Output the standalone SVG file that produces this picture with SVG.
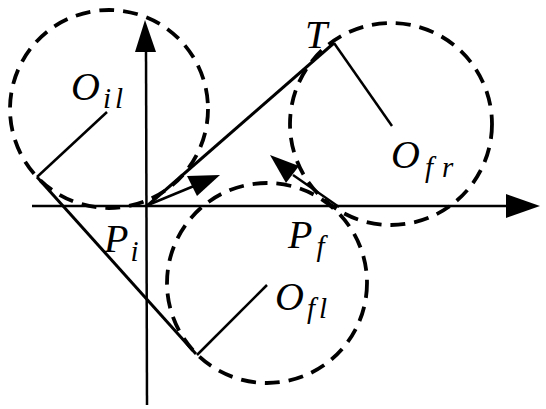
<svg xmlns="http://www.w3.org/2000/svg" width="546" height="409" viewBox="0 0 546 409">
<style>
.circ{fill:none;stroke:#000;stroke-width:3.8;stroke-dasharray:15 9}
.ln{stroke:#000;stroke-width:3;fill:none;stroke-linecap:butt}
.thin{stroke:#000;stroke-width:2.5;fill:none}
.ax{stroke:#000;stroke-width:2.5;fill:none}
.lbl{font-family:"Liberation Serif","Times New Roman",serif;font-style:italic;font-size:40px;fill:#000}
.sub{font-size:29px;letter-spacing:4px}
.wide{letter-spacing:9px}
</style>
<rect width="546" height="409" fill="#fff"/>
<g id="axes">
<line class="ax" x1="32" y1="206" x2="510" y2="206"/>
<path d="M506,194 L540,206 L506,218 Z" fill="#000"/>
<line class="ax" x1="147" y1="405" x2="146" y2="50"/>
<path d="M135,52 L145,20 L156,52 Z" fill="#000"/>
</g>
<g id="node-Oil">
<circle class="circ" cx="109" cy="109" r="99"/>
<text class="lbl" x="71" y="100">O<tspan class="sub" dx="3" dy="8">il</tspan></text>
</g>
<g id="node-Ofr">
<circle class="circ" cx="391" cy="124" r="101"/>
<text class="lbl" x="391" y="168">O<tspan class="sub wide" dx="5" dy="9">fr</tspan></text>
</g>
<g id="node-Ofl">
<circle class="circ" cx="267" cy="283" r="100"/>
<text class="lbl" x="275" y="310">O<tspan class="sub" dx="3" dy="8">fl</tspan></text>
</g>
<g id="node-T">
<text class="lbl" x="305" y="48">T</text>
</g>
<g id="node-Pi">
<text class="lbl" x="104" y="252">P<tspan class="sub" dx="2" dy="9">i</tspan></text>
</g>
<g id="node-Pf">
<text class="lbl" x="288" y="248">P<tspan class="sub" dx="4" dy="8">f</tspan></text>
</g>
<g id="connectors">
<line class="ln" x1="147" y1="206" x2="334" y2="43"/>
<line class="thin" x1="334" y1="43" x2="392" y2="126"/>
<line class="thin" x1="107" y1="112" x2="37" y2="177"/>
<line class="ln" x1="37" y1="177" x2="196" y2="354"/>
<line class="thin" x1="267" y1="285" x2="197" y2="355"/>
<line class="thin" x1="148" y1="205" x2="194" y2="186"/>
<path d="M187,176 L220,175 L197,196 Z" fill="#000"/>
<line class="thin" x1="339" y1="207" x2="293" y2="175"/>
<path d="M299,166 L270,155 L286,183 Z" fill="#000"/>
</g>
</svg>
